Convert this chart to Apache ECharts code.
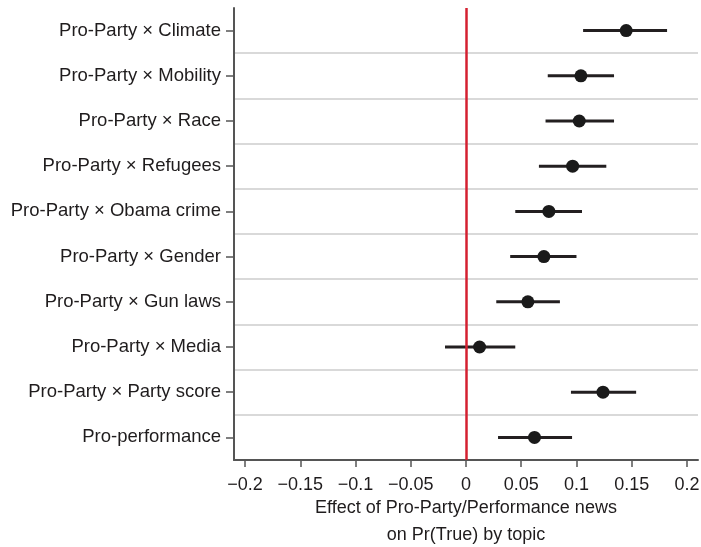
<!DOCTYPE html>
<html>
<head>
<meta charset="utf-8">
<script src="https://cdn.jsdelivr.net/npm/echarts@6/dist/echarts.min.js"></script>
<style>
  html, body { margin: 0; padding: 0; background: #fff; }
  #chart { width: 701px; height: 547px; }
</style>
</head>
<body>
<div id="chart"></div>
<script>
const topics = [
  'Pro-Party × Climate',
  'Pro-Party × Mobility',
  'Pro-Party × Race',
  'Pro-Party × Refugees',
  'Pro-Party × Obama crime',
  'Pro-Party × Gender',
  'Pro-Party × Gun laws',
  'Pro-Party × Media',
  'Pro-Party × Party score',
  'Pro-performance'
]
const estimates = [0.145, 0.104, 0.1025, 0.0965, 0.075, 0.0705, 0.056, 0.0123, 0.124, 0.062]
const lower = [0.106, 0.074, 0.072, 0.066, 0.0446, 0.040, 0.0274, -0.019, 0.095, 0.029]
const upper = [0.182, 0.134, 0.134, 0.127, 0.105, 0.100, 0.085, 0.0446, 0.154, 0.096]
const tickValues = [-0.2, -0.15, -0.1, -0.05, 0, 0.05, 0.1, 0.15, 0.2]
const tickLabels = ['\u22120.2', '\u22120.15', '\u22120.1', '\u22120.05', '0', '0.05', '0.1', '0.15', '0.2']

const FONT = '"Liberation Sans", Arial, sans-serif'
const TEXT = '#1f1c1d'
const AXIS = '#555'

const chart = echarts.init(document.getElementById('chart'), null, { renderer: 'canvas' })

const option = {
  animation: false,
  backgroundColor: '#fff',
  textStyle: { fontFamily: FONT, color: TEXT },
  grid: {
    left: 234,
    right: 3,
    top: 8,
    bottom: 87,
    containLabel: false,
    outerBoundsMode: 'none'
  },
  xAxis: {
    type: 'value',
    min: -0.21,
    max: 0.21,
    axisLine: { show: true, onZero: false, lineStyle: { color: AXIS, width: 2 } },
    axisTick: { show: true, length: 7, customValues: tickValues, lineStyle: { color: AXIS, width: 1.5 } },
    axisLabel: {
      customValues: tickValues,
      margin: 16,
      fontSize: 18,
      fontFamily: FONT,
      color: TEXT,
      formatter: (v) => tickLabels[tickValues.findIndex((t) => Math.abs(t - v) < 1e-9)]
    },
    splitLine: { show: false },
    name: 'Effect of Pro-Party/Performance news\non Pr(True) by topic',
    nameLocation: 'middle',
    nameGap: 35,
    nameMoveOverlap: false,
    nameTextStyle: { fontSize: 18, fontFamily: FONT, color: TEXT, lineHeight: 27, align: 'center' }
  },
  yAxis: {
    type: 'category',
    data: topics,
    inverse: true,
    axisLine: { show: true, onZero: false, lineStyle: { color: AXIS, width: 2 } },
    axisTick: { show: true, alignWithLabel: true, length: 8, lineStyle: { color: AXIS, width: 1.5 } },
    axisLabel: { margin: 13, fontSize: 18.5, fontFamily: FONT, color: TEXT },
    splitLine: {
      show: true,
      interval: (index) => index > 0,
      lineStyle: { color: '#cccccc', width: 1.5 }
    }
  },
  series: [
    {
      type: 'custom',
      name: 'CI',
      data: topics.map((t, i) => [lower[i], upper[i], i]),
      renderItem: (params, api) => {
        const a = api.coord([api.value(0), api.value(2)])
        const b = api.coord([api.value(1), api.value(2)])
        return {
          type: 'line',
          shape: { x1: a[0], y1: a[1], x2: b[0], y2: b[1] },
          style: { stroke: '#231f20', lineWidth: 3 }
        }
      },
      z: 3,
      markLine: {
        silent: true,
        symbol: 'none',
        label: { show: false },
        lineStyle: { color: '#d42030', width: 2.5, type: 'solid' },
        data: [{ xAxis: 0 }]
      }
    },
    {
      type: 'scatter',
      name: 'Estimate',
      data: topics.map((t, i) => [estimates[i], i]),
      symbol: 'circle',
      symbolSize: 13,
      itemStyle: { color: '#1a1a1a', opacity: 1 },
      z: 4
    }
  ]
}

chart.setOption(option)
</script>
</body>
</html>
